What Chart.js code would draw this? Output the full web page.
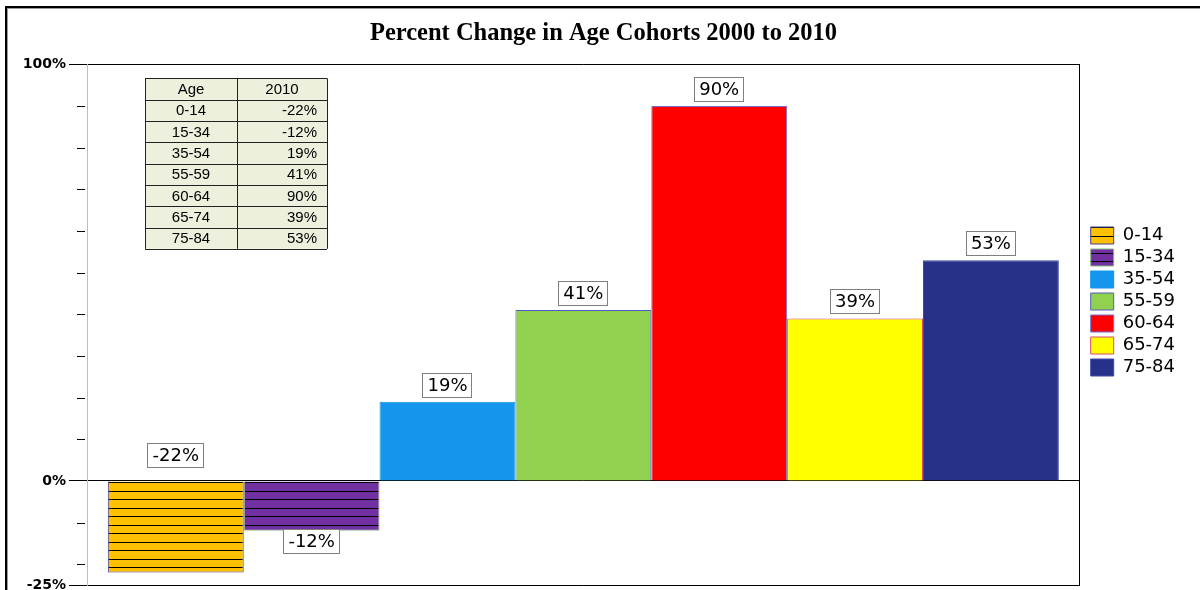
<!DOCTYPE html>
<html>
<head>
<meta charset="utf-8">
<title>Percent Change in Age Cohorts 2000 to 2010</title>
<script src="https://cdn.jsdelivr.net/npm/chart.js@4/dist/chart.umd.min.js"></script>
<style>
  html, body { margin: 0; padding: 0; background: #fff; overflow: hidden; }
  #wrap { position: absolute; left: 0; top: 0; width: 1200px; height: 620px; }
  .frame {
    position: absolute; left: 5px; top: 6px; width: 1300px; height: 700px;
    border-top: 2px solid #000; border-left: 2px solid #000;
    box-shadow: inset 1px 1px 0 #9a9a9a; pointer-events: none;
  }
</style>
</head>
<body>
<div id="wrap"><canvas id="cohorts" width="1200" height="620"></canvas></div>
<div class="frame"></div>
<script>
const ageGroups = ['0-14', '15-34', '35-54', '55-59', '60-64', '65-74', '75-84'];
const change2010 = [-22, -12, 19, 41, 90, 39, 53];
const yTicks = [-25, -20, -10, 0, 10, 20, 30, 40, 50, 60, 70, 80, 90, 100];
const yLabelled = [-25, 0, 100];

const fills = ['#FFC000', '#7030A0', '#1396EB', '#92D050', '#FF0000', '#FFFF00', '#28318A'];
const edges = ['#40408A', '#86B886', '#1396EB', '#4F5FC0', '#7070D0', '#D84A6A', '#3D4AA8'];
const hatched = [true, true, false, false, false, false, false];
// where the value tag sits: above the zero line or past the bar end
const tagSides = ['base', 'end', 'end', 'end', 'end', 'end', 'end'];

// horizontal black stripes, about 8.5px apart
function stripes(color) {
  const c = document.createElement('canvas');
  c.width = 8; c.height = 17;
  const g = c.getContext('2d');
  g.fillStyle = color;
  g.fillRect(0, 0, 8, 17);
  g.fillStyle = '#000';
  g.fillRect(0, 6, 8, 1);
  g.fillRect(0, 15, 8, 1);
  return g.createPattern(c, 'repeat');
}

const minorTicks = {
  id: 'minorTicks',
  afterDraw(chart) {
    const { ctx, chartArea } = chart;
    const y = chart.scales.y;
    ctx.save();
    ctx.strokeStyle = '#000';
    ctx.lineWidth = 1;
    yTicks.filter(v => !yLabelled.includes(v)).forEach(v => {
      const py = Math.round(y.getPixelForValue(v)) + 0.5;
      ctx.beginPath();
      ctx.moveTo(chartArea.left - 10, py);
      ctx.lineTo(chartArea.left - 2, py);
      ctx.stroke();
    });
    ctx.restore();
  }
};

const valueTags = {
  id: 'valueTags',
  afterDatasetsDraw(chart) {
    const ctx = chart.ctx;
    ctx.save();
    ctx.font = '18px "DejaVu Sans"';
    ctx.textAlign = 'center';
    ctx.textBaseline = 'middle';
    chart.data.datasets.forEach((ds, i) => {
      const bar = chart.getDatasetMeta(i).data[0];
      const v = ds.data[0];
      const text = v + '%';
      const w = Math.round(ctx.measureText(text).width + 10);
      const h = 25;
      let top;
      if (tagSides[i] === 'base') top = bar.base - 13 - h;
      else if (v >= 0) top = bar.y - 4 - h;
      else top = bar.y - 2;
      const left = Math.round(bar.x - w / 2);
      top = Math.round(top);
      ctx.fillStyle = '#fff';
      ctx.fillRect(left, top, w, h);
      ctx.strokeStyle = '#7f7f7f';
      ctx.lineWidth = 1;
      ctx.strokeRect(left + 0.5, top + 0.5, w - 1, h - 1);
      ctx.fillStyle = '#000';
      ctx.fillText(text, bar.x, top + h / 2 + 1);
    });
    ctx.restore();
  }
};

// small data table in the upper left of the plot
const dataTable = {
  id: 'dataTable',
  afterDraw(chart) {
    const { ctx, chartArea } = chart;
    const x0 = chartArea.left + 58, y0 = chartArea.top + 14;
    const colW = [92, 90], rowH = 21.3;
    const rows = [['Age', '2010']].concat(ageGroups.map((g, i) => [g, change2010[i] + '%']));
    const tw = colW[0] + colW[1], th = rowH * rows.length;
    ctx.save();
    ctx.fillStyle = '#ECF0DD';
    ctx.fillRect(x0, y0, tw, th);
    ctx.strokeStyle = '#222';
    ctx.lineWidth = 1;
    ctx.beginPath();
    for (let r = 0; r <= rows.length; r++) {
      const py = Math.round(y0 + r * rowH) + 0.5;
      ctx.moveTo(x0, py);
      ctx.lineTo(x0 + tw, py);
    }
    [0, colW[0], tw].forEach(dx => {
      const px = Math.round(x0 + dx) + 0.5;
      ctx.moveTo(px, y0);
      ctx.lineTo(px, y0 + th);
    });
    ctx.stroke();
    ctx.font = '15px "Liberation Sans"';
    ctx.fillStyle = '#000';
    ctx.textBaseline = 'middle';
    rows.forEach((row, r) => {
      const cy = y0 + r * rowH + rowH / 2 + 1;
      ctx.textAlign = 'center';
      ctx.fillText(row[0], x0 + colW[0] / 2, cy);
      if (r === 0) {
        ctx.fillText(row[1], x0 + colW[0] + colW[1] / 2, cy);
      } else {
        ctx.textAlign = 'right';
        ctx.fillText(row[1], x0 + tw - 10, cy);
      }
    });
    ctx.restore();
  }
};

const datasets = ageGroups.map((g, i) => ({
  label: g,
  data: [change2010[i]],
  backgroundColor: hatched[i] ? stripes(fills[i]) : fills[i],
  borderColor: edges[i],
  borderWidth: 1,
  categoryPercentage: 0.958,
  barPercentage: 1
}));

const axisLine = ctx => yLabelled.includes(ctx.tick && ctx.tick.value) ? '#000' : 'rgba(0,0,0,0)';

new Chart(document.getElementById('cohorts'), {
  type: 'bar',
  data: { labels: ['2010'], datasets },
  options: {
    responsive: false,
    animation: false,
    devicePixelRatio: 1,
    layout: { padding: { left: 22, right: 15, top: 18, bottom: 35 } },
    plugins: {
      title: {
        display: true,
        text: 'Percent Change in Age Cohorts 2000 to 2010',
        color: '#000',
        font: { family: 'Liberation Serif', size: 24.5, weight: 'bold' },
        padding: { top: 1, bottom: 16 }
      },
      legend: {
        position: 'right',
        labels: {
          color: '#000',
          font: { family: 'DejaVu Sans', size: 18 },
          boxWidth: 23,
          boxHeight: 17,
          padding: 4
        }
      },
      tooltip: { enabled: false }
    },
    scales: {
      x: { display: false },
      y: {
        min: -25,
        max: 100,
        afterBuildTicks: s => { s.ticks = yTicks.map(v => ({ value: v })); },
        afterFit: s => { s.width = 65; },
        ticks: {
          autoSkip: false,
          padding: 3,
          color: '#000',
          font: { family: 'DejaVu Sans', size: 14, weight: 'bold' },
          callback: v => yLabelled.includes(v) ? v + '%' : ''
        },
        grid: { tickLength: 18, color: axisLine, tickColor: axisLine },
        border: { color: '#bdbdbd' }
      },
      yRight: {
        position: 'right',
        min: -25,
        max: 100,
        afterFit: s => { s.width = 7; },
        ticks: { display: false },
        grid: { display: false },
        border: { color: '#000' }
      }
    }
  },
  plugins: [minorTicks, valueTags, dataTable]
});
</script>
</body>
</html>
